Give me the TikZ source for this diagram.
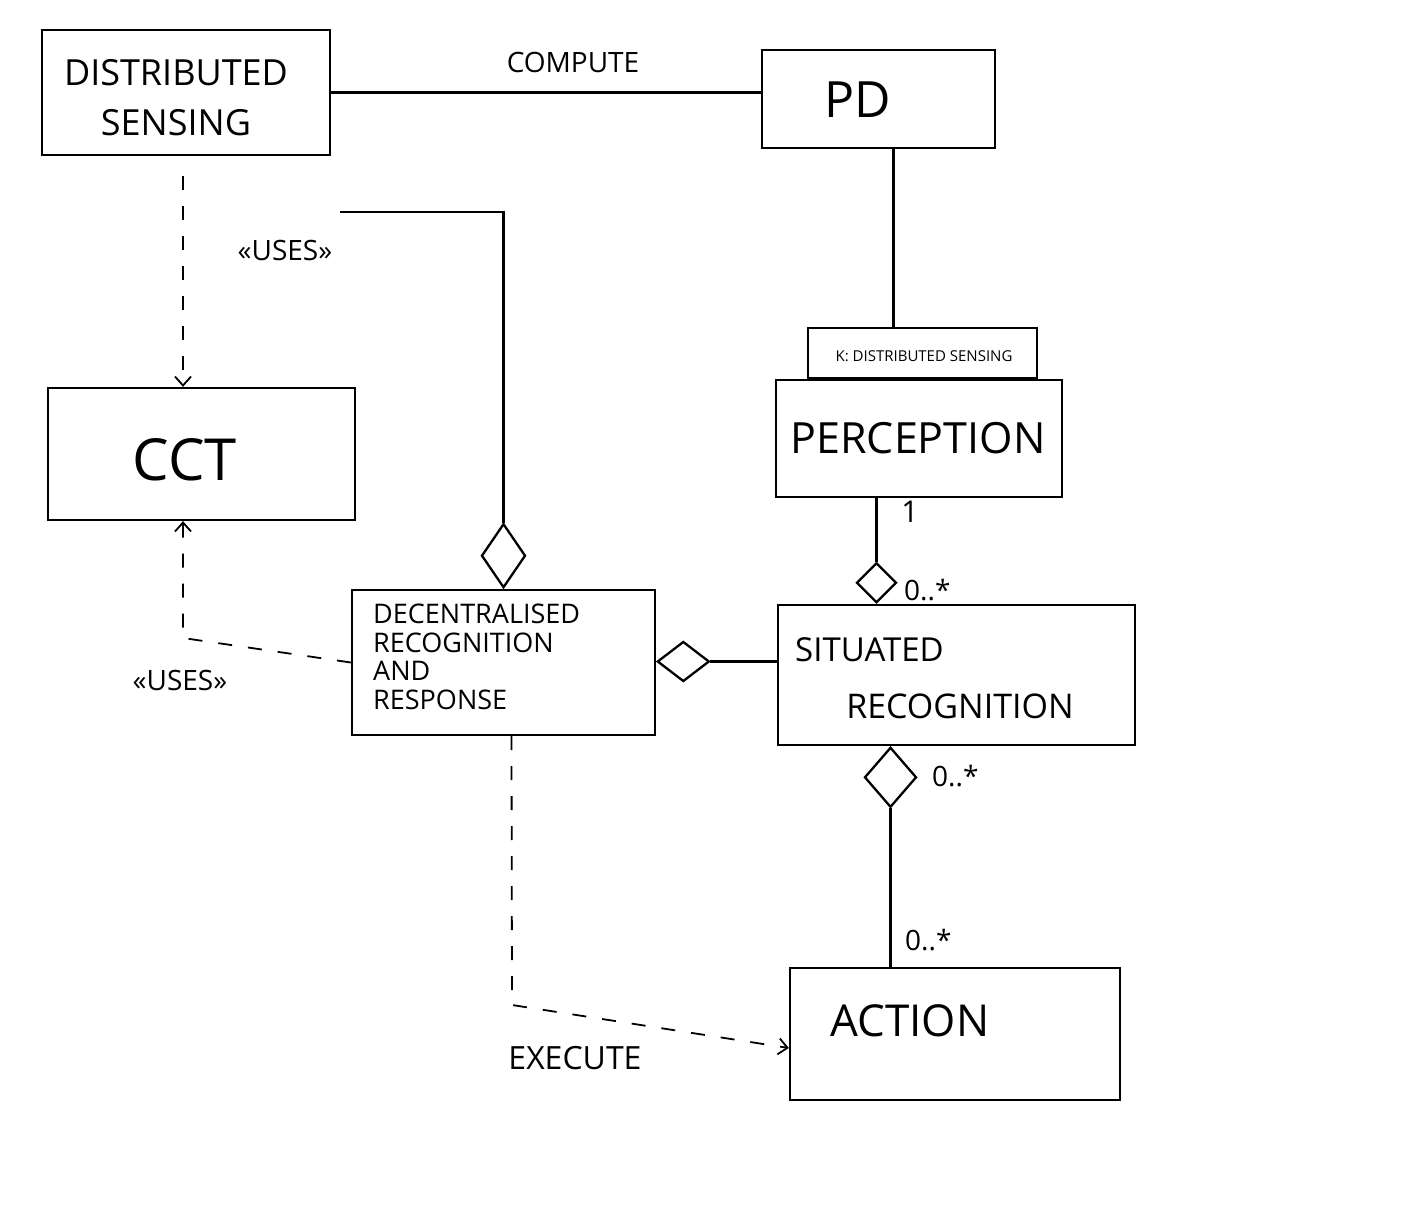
\documentclass[tikz,border=0pt]{standalone}
\usepackage{fontspec}
\setmainfont{Open Sans}
\usetikzlibrary{arrows.meta,shapes.geometric}
\tikzset{
  box/.style={draw, line width=2.3pt, rectangle, inner sep=0pt},
  lbl/.style={inner sep=0pt, font=#1},
  lbl/.default={\fontsize{28}{30}\selectfont},
  aggr/.style={draw, line width=2.3pt, diamond, inner sep=0pt, fill=white},
  conn/.style={line width=2.3pt},
  dep/.style={line width=1.8pt, dash pattern=on 14pt off 16pt, -{Straight Barb[length=9pt,width=16pt,line width=1.8pt]}},
}
\begin{document}
\begin{tikzpicture}[x=1pt,y=-1pt]
\useasboundingbox[fill=white] (0,0) rectangle (1402,1228);

% boxes
\node[box, minimum width=288, minimum height=125] (DS) at (186,92.5) {};
\node[lbl={\fontsize{36}{50}\selectfont}, align=center] (DSt) at (176,98) {DISTRIBUTED\\SENSING};
\node[box, minimum width=233, minimum height=98] (PD) at (878.5,99) {};
\node[lbl={\fontsize{50}{52}\selectfont}] (PDt) at (858,100) {PD};
\node[box, minimum width=307, minimum height=132] (CCT) at (201.5,454) {};
\node[lbl={\fontsize{58}{60}\selectfont}] (CCTt) at (185,460) {CCT};
\node[box, minimum width=229, minimum height=50] (tab) at (922.5,353) {};
\node[lbl={\fontsize{15}{16}\selectfont}] (tabt) at (924,356) {K: DISTRIBUTED SENSING};
\node[box, minimum width=286, minimum height=117] (Perc) at (919,438.5) {};
\node[lbl={\fontsize{43}{46}\selectfont}] (Perct) at (918,438) {PERCEPTION};
\node[box, minimum width=303, minimum height=145] (DRR) at (503.5,662.5) {};
\node[lbl={\fontsize{27}{28.5}\selectfont}, align=left, anchor=north west] (DRRt) at (373,604) {DECENTRALISED\\RECOGNITION\\AND\\RESPONSE};
\node[box, minimum width=357, minimum height=140] (SR) at (956.5,675) {};
\node[lbl={\fontsize{33}{35}\selectfont}, anchor=west] (SRt1) at (795,650) {SITUATED};
\node[lbl={\fontsize{34}{36}\selectfont}] (SRt2) at (960,706) {RECOGNITION};
\node[box, minimum width=330, minimum height=132] (Act) at (955,1034) {};
\node[lbl={\fontsize{44}{46}\selectfont}] (Actt) at (910,1021) {ACTION};

% aggregation diamonds
\node[aggr, minimum width=44, minimum height=64, anchor=south] (d1) at (DRR.north) {};
\node[aggr, minimum width=52, minimum height=40, anchor=west] (d2) at ([yshift=1]DRR.east) {};
\node[aggr, minimum width=40, minimum height=40, anchor=south] (d3) at ([xshift=-80]SR.north) {};
\node[aggr, minimum width=52, minimum height=60, anchor=north] (d4) at ([xshift=-66]SR.south) {};

% solid connectors
\draw[conn] (DS.east) -- (DS.east -| PD.west);
\node[lbl] (compute) at (573,62) {COMPUTE};
\coordinate (c1) at (340,212);
\draw[conn] (c1) -| (d1.north);
\draw[conn] ([xshift=15]PD.south) -- ([xshift=15]PD.south |- tab.north);
\draw[conn] (d2.east) -- (d2.east -| SR.west);
\draw[conn] (d3.north) -- (d3.north |- Perc.south);
\node[lbl={\fontsize{30}{32}\selectfont}] (m1) at (910,512) {1};
\node[lbl, anchor=west] (m2) at (904,590) {0..*};
\draw[conn] (d4.south) -- (d4.south |- Act.north);
\node[lbl, anchor=west] (m3) at (932,776) {0..*};
\node[lbl, anchor=west] (m4) at (905,940) {0..*};

% dependencies
\draw[dep, shorten <=20pt] ([xshift=-3]DS.south) -- ([xshift=-3]DS.south |- CCT.north);
\node[lbl] (uses1) at (285,250) {<<USES>>};
\coordinate (c2) at (183,638);
\draw[dep] (DRR.west) -- (c2) -- (c2 |- CCT.south);
\node[lbl] (uses2) at (180,680) {<<USES>>};
\coordinate (c3) at (512,1005);
\draw[dep] ([xshift=8]DRR.south) -- (c3) -- ([yshift=-14]Act.west);
\node[lbl={\fontsize{32}{34}\selectfont}] (exec) at (575,1058) {EXECUTE};
\end{tikzpicture}
\end{document}
